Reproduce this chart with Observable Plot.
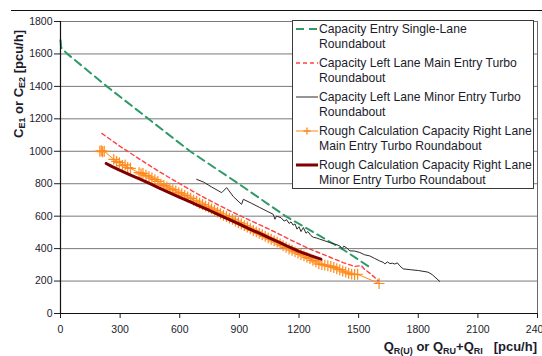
<!DOCTYPE html>
<html>
<head>
<meta charset="utf-8">
<script src="https://cdn.jsdelivr.net/npm/d3@7"></script>
<script src="https://cdn.jsdelivr.net/npm/@observablehq/plot@0.6"></script>
<style>
  html, body { margin: 0; padding: 0; background: #fff; overflow: hidden; }
  #wrap { position: relative; width: 542px; height: 356px; font-family: "Liberation Sans", Arial, sans-serif; }
  #topline { position: absolute; left: 11px; top: 10px; width: 531px; border-top: 1.6px solid #111; }
  #legend { position: absolute; left: 292px; top: 20px; width: 242px; height: 169px; background: #fff; border: 1px solid #3a3a3a; box-sizing: border-box; }
  .item { position: absolute; left: 0; white-space: nowrap; font-size: 12.2px; line-height: 14.7px; color: #1c1c2c; }
  .item svg { position: absolute; left: 2px; top: 0; }
  .item .txt { position: absolute; left: 26px; top: 0; }
</style>
</head>
<body>
<div id="wrap"></div>
<script>
// ---- tick values ----
const xTicks = [0, 300, 600, 900, 1200, 1500, 1800, 2100, 2400];
const yTicks = [0, 200, 400, 600, 800, 1000, 1200, 1400, 1600, 1800];

// ---- series names ----
const seriesNames = [
  ["Capacity Entry Single-Lane", "Roundabout"],
  ["Capacity Left Lane Main Entry Turbo", "Roundabout"],
  ["Capacity Left Lane Minor Entry Turbo", "Roundabout"],
  ["Rough Calculation Capacity Right Lane", "Main Entry Turbo Roundabout"],
  ["Rough Calculation Capacity Right Lane", "Minor Entry Turbo Roundabout"]
];

// ---- Capacity Entry Single-Lane Roundabout ----
const singleQ = [0, 3, 30, 233, 442, 652, 890, 1130, 1420, 1565];
const singleC = [1685, 1640, 1605, 1400, 1200, 1000, 805, 602, 396, 278];

// ---- Capacity Left Lane Main Entry Turbo Roundabout ----
const leftMainQ = [208, 300, 400, 500, 600, 700, 800, 900, 1000, 1100, 1163, 1250, 1350, 1422, 1480, 1514, 1530, 1560, 1600];
const leftMainC = [1110, 1030, 950, 872, 800, 730, 665, 605, 548, 490, 450, 400, 350, 314, 290, 295, 272, 245, 200];

// ---- Capacity Left Lane Minor Entry Turbo Roundabout ----
const leftMinorQ = [685, 720, 760, 811, 836, 870, 911, 920, 960, 1000, 1040, 1070, 1079, 1087, 1110, 1125, 1138, 1150, 1160, 1170, 1180, 1190, 1200, 1210, 1222, 1235, 1245, 1260, 1272, 1290, 1305, 1330, 1355, 1380, 1405, 1418, 1425, 1440, 1456, 1480, 1506, 1530, 1556, 1580, 1606, 1623, 1632, 1645, 1657, 1670, 1682, 1695, 1707, 1724, 1760, 1800, 1849, 1870, 1908];
const leftMinorC = [827, 810, 780, 745, 776, 720, 673, 704, 680, 655, 630, 612, 581, 601, 590, 570, 578, 555, 565, 545, 552, 520, 535, 505, 530, 495, 505, 480, 470, 465, 458, 448, 437, 428, 417, 400, 415, 405, 386, 385, 376, 362, 355, 340, 324, 316, 306, 318, 308, 310, 305, 312, 294, 275, 270, 265, 255, 240, 198];

// ---- Rough Calculation Capacity Right Lane Main Entry ----
const roughMainQ = [198, 205, 212, 220, 268, 282, 296, 312, 325, 338, 352, 395, 405, 415, 430, 445, 460, 475, 490, 505, 520, 535, 550, 565, 580, 595, 610, 625, 640, 655, 670, 685, 700, 715, 730, 745, 760, 775, 790, 805, 820, 835, 850, 865, 880, 895, 910, 925, 940, 955, 970, 985, 1000, 1015, 1030, 1045, 1060, 1075, 1090, 1105, 1120, 1135, 1150, 1165, 1180, 1195, 1210, 1225, 1240, 1255, 1270, 1285, 1300, 1315, 1330, 1345, 1360, 1375, 1390, 1405, 1420, 1435, 1450, 1465, 1480, 1495, 1603];
const roughMainC = [1000, 1003, 997, 1000, 950, 938, 930, 912, 916, 900, 895, 868, 860, 864, 852, 843, 835, 825, 815, 797, 790, 780, 772, 763, 755, 745, 738, 728, 718, 710, 698, 692, 680, 672, 662, 655, 645, 636, 625, 615, 605, 598, 588, 580, 570, 560, 552, 542, 533, 522, 512, 503, 494, 485, 476, 466, 458, 448, 440, 428, 418, 408, 398, 390, 380, 372, 364, 355, 346, 338, 328, 318, 306, 302, 298, 294, 290, 284, 276, 270, 262, 255, 248, 243, 240, 242, 185];

// ---- Rough Calculation Capacity Right Lane Minor Entry ----
const roughMinorQ = [230, 260, 300, 350, 400, 450, 500, 550, 600, 650, 700, 750, 800, 850, 903, 950, 1000, 1050, 1104, 1150, 1200, 1255, 1310];
const roughMinorC = [925, 905, 882, 855, 828, 800, 772, 744, 716, 690, 662, 635, 606, 578, 550, 522, 495, 466, 437, 410, 383, 358, 335];

// ---- styles ----
const colors = ["#2e9a68", "#ff4040", "#2a2a2a", "#ff8a1c", "#800000"];
const textColor = "#1c1c2c";

const toRows = (qs, cs) => qs.map((q, i) => ({q, c: cs[i]}));
const single = toRows(singleQ, singleC);
const leftMain = toRows(leftMainQ, leftMainC);
const leftMinor = toRows(leftMinorQ, leftMinorC);
const roughMain = toRows(roughMainQ, roughMainC);
const roughMinor = toRows(roughMinorQ, roughMinorC);

const chart = Plot.plot({
  width: 542,
  height: 356,
  marginLeft: 60,
  marginRight: 5,
  marginTop: 21,
  marginBottom: 43,
  style: {fontFamily: '"Liberation Sans", Arial, sans-serif', fontSize: "10.5px", color: textColor, background: "white", overflow: "visible"},
  x: {domain: [0, 2400], ticks: xTicks, tickSize: 5, tickPadding: 7, label: null, tickFormat: d => String(d)},
  y: {domain: [0, 1800], ticks: yTicks, tickSize: 6, tickPadding: 2, label: null, tickFormat: d => String(d)},
  marks: [
    Plot.ruleY(yTicks, {stroke: "#7a7a7a", strokeWidth: 1}),
    Plot.ruleX([2400], {stroke: "#6a6a6a", strokeWidth: 1}),
    Plot.line(single, {x: "q", y: "c", stroke: colors[0], strokeWidth: 2, strokeDasharray: "8,5"}),
    Plot.line(leftMain, {x: "q", y: "c", stroke: colors[1], strokeWidth: 1.4, strokeDasharray: "4,3"}),
    Plot.line(leftMinor, {x: "q", y: "c", stroke: colors[2], strokeWidth: 1}),
    Plot.line(roughMain, {x: "q", y: "c", stroke: colors[3], strokeWidth: 1}),
    Plot.dot(roughMain, {x: "q", y: "c", symbol: "plus", r: 3.6, stroke: colors[3], strokeWidth: 1.2}),
    Plot.line(roughMinor, {x: "q", y: "c", stroke: colors[4], strokeWidth: 3}),
    Plot.ruleX([0], {stroke: "#111", strokeWidth: 1.2}),
    Plot.ruleY([0], {stroke: "#111", strokeWidth: 1.2})
  ]
});

const wrap = document.getElementById("wrap");
wrap.appendChild(chart);

const svgSel = d3.select(chart);
// y axis label with subscripts
const yl = svgSel.append("text")
  .attr("transform", "translate(23,84) rotate(-90)")
  .attr("text-anchor", "middle")
  .attr("font-weight", "bold")
  .attr("font-size", 13)
  .attr("fill", textColor);
yl.append("tspan").text("C");
yl.append("tspan").attr("font-size", 9).attr("dy", 2).text("E1");
yl.append("tspan").attr("dy", -2).text(" or C");
yl.append("tspan").attr("font-size", 9).attr("dy", 2).text("E2");
yl.append("tspan").attr("dy", -2).text(" [pcu/h]");

// x axis label with subscripts
const xl = svgSel.append("text")
  .attr("x", 537).attr("y", 351)
  .attr("text-anchor", "end")
  .attr("font-weight", "bold")
  .attr("font-size", 13)
  .attr("fill", textColor);
xl.append("tspan").text("Q");
xl.append("tspan").attr("font-size", 9).attr("dy", 3).text("R(U)");
xl.append("tspan").attr("dy", -3).text(" or Q");
xl.append("tspan").attr("font-size", 9).attr("dy", 3).text("RU");
xl.append("tspan").attr("dy", -3).text("+Q");
xl.append("tspan").attr("font-size", 9).attr("dy", 3).text("RI");
xl.append("tspan").attr("dy", -3).text("\u00a0\u00a0\u00a0[pcu/h]");

// top rule
const topRule = document.createElement("div");
topRule.id = "topline";
wrap.appendChild(topRule);

// legend
const legendBox = document.createElement("div");
legendBox.id = "legend";
wrap.appendChild(legendBox);
const samples = [
  '<line x1="1" x2="23" y1="7" y2="7" stroke="' + colors[0] + '" stroke-width="2" stroke-dasharray="8,5"/>',
  '<line x1="1" x2="23" y1="7" y2="7" stroke="' + colors[1] + '" stroke-width="1.4" stroke-dasharray="4,3"/>',
  '<line x1="1" x2="23" y1="7" y2="7" stroke="' + colors[2] + '" stroke-width="1"/>',
  '<line x1="1" x2="23" y1="7" y2="7" stroke="' + colors[3] + '" stroke-width="1.2" stroke-dasharray="10,2"/><path d="M12,3.5V10.5M8.5,7H15.5" stroke="' + colors[3] + '" stroke-width="1.3"/>',
  '<line x1="1" x2="23" y1="7" y2="7" stroke="' + colors[4] + '" stroke-width="3"/>'
];
seriesNames.forEach((lines, i) => {
  const it = document.createElement("div");
  it.className = "item";
  it.style.top = (1 + 34 * i) + "px";
  it.innerHTML = '<svg width="25" height="14">' + samples[i] + '</svg><div class="txt">' + lines[0] + '<br>' + lines[1] + '</div>';
  legendBox.appendChild(it);
});
</script>
</body>
</html>
